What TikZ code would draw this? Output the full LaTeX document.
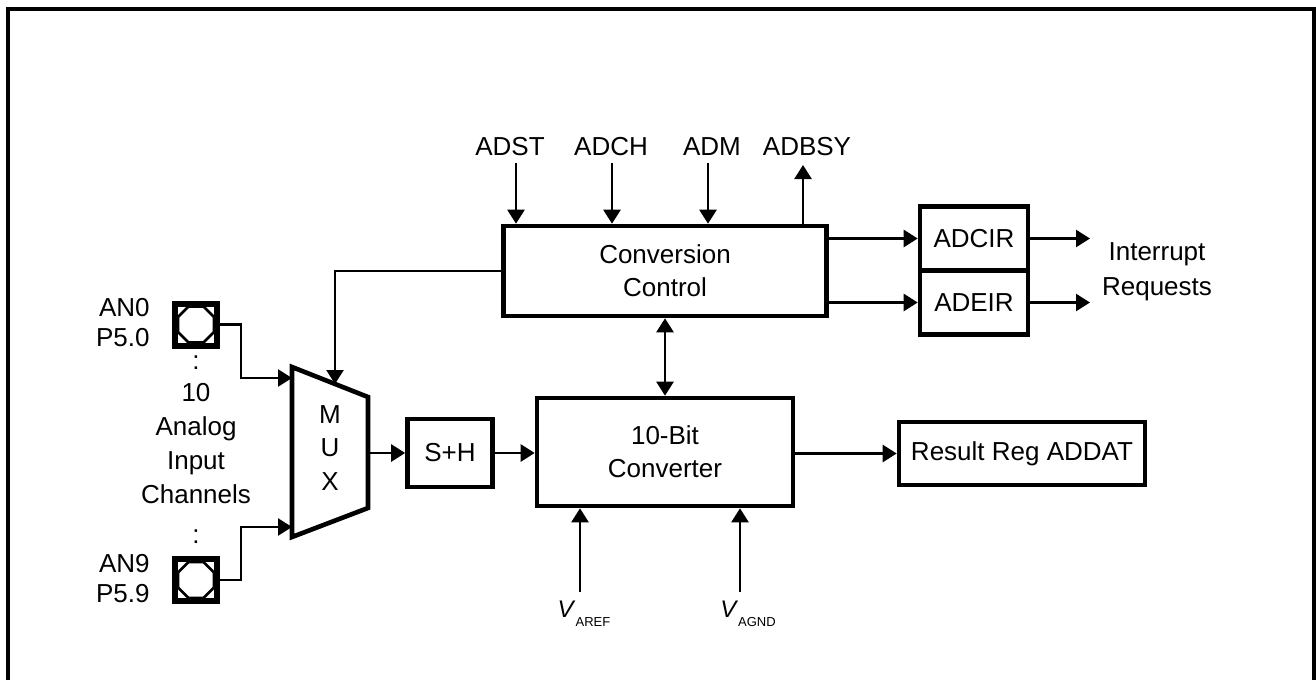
\documentclass[tikz,border=0pt]{standalone}
\usepackage{fontspec}
\setmainfont{Liberation Sans}
\usetikzlibrary{arrows.meta,calc}

\begin{document}
\begin{tikzpicture}[x=0.5pt, y=-0.5pt,
  font=\fontsize{13}{16.5}\selectfont,
  box/.style={draw, line width=2.3pt, align=center, inner sep=0pt},
  lbl/.style={align=center, inner sep=2pt},
  pad/.style={draw, line width=3pt, minimum size=21pt, inner sep=0pt,
    path picture={\draw[line width=1.3pt, shift={(path picture bounding box.center)}]
      (9pt,3.73pt) -- (3.73pt,9pt) -- (-3.73pt,9pt) -- (-9pt,3.73pt) -- (-9pt,-3.73pt)
      -- (-3.73pt,-9pt) -- (3.73pt,-9pt) -- (9pt,-3.73pt) -- cycle;}},
  arr/.style={-{Triangle[length=7pt,width=8.5pt]}, line width=1.25pt},
  arr2/.style={{Triangle[length=7pt,width=8.5pt]}-{Triangle[length=7pt,width=8.5pt]}, line width=1.25pt}
]
\useasboundingbox (0,0) rectangle (1316,680);
\draw[line width=1.6pt] (8,680) -- (8,9) -- (1314,9) -- (1314,680);

% main blocks
\node[box, minimum width=161.5pt, minimum height=45pt] (cc) at (665,271) {Conversion\\Control};
\node[box, minimum width=128pt, minimum height=54pt] (conv) at (665,452) {10-Bit\\Converter};
\node[box, minimum width=42.5pt, minimum height=34pt] (sh) at (450,453) {S+H};
\node[box, minimum width=54pt, minimum height=32pt] (adcir) at (974,238.5) {ADCIR};
\node[box, minimum width=54pt, minimum height=32pt] (adeir) at (974,302.5) {ADEIR};
\node[box, minimum width=123pt, minimum height=31.5pt] (res) at (1022,453.5) {Result Reg ADDAT};

% multiplexer
\coordinate (mux-tl) at (292,367); \coordinate (mux-tr) at (368,397);
\coordinate (mux-br) at (368,508); \coordinate (mux-bl) at (292,537);
\draw[line width=2.3pt, line join=miter] (mux-tl) -- (mux-tr) -- (mux-br) -- (mux-bl) -- cycle;
\node[lbl, font=\fontsize{13}{16.75}\selectfont] (muxtxt) at (330,448) {M\\U\\X};
\coordinate (muxsel) at (335,384);
\coordinate (muxin0) at (292,378); \coordinate (muxin9) at (292,527);
\coordinate (muxout) at (368,453);

% analog inputs
\node[pad] (pad0) at (196,324.5) {};
\node[pad] (pad9) at (196,580) {};
\node[lbl, anchor=east, align=right, font=\fontsize{13}{15}\selectfont] (an0) at (154,323) {AN0\\P5.0};
\node[lbl, anchor=east, align=right, font=\fontsize{13}{15}\selectfont] (an9) at (154,578.5) {AN9\\P5.9};
\node[lbl] (dots0) at (196,363) {:};
\node[lbl] (dots9) at (196,537) {:};
\node[lbl, font=\fontsize{13}{17}\selectfont] (chan) at (196,444) {10\\Analog\\Input\\Channels};
\draw[arr] (pad0.east) -- ++(21,0) |- (muxin0);
\draw[arr] (pad9.east) -- ++(21,0) |- (muxin9);
\draw[arr] (cc.west) -| (muxsel);

% control signals
\foreach \n/\lx/\ax in {ADST/510/516, ADCH/611/612, ADM/712/708} {
  \node[lbl] (\n) at (\lx,147) {\n};
  \coordinate (\n-pin) at (\ax,163);
  \draw[arr] (\n-pin) -- (\n-pin |- cc.north);
}
\node[lbl] (ADBSY) at (807,147) {ADBSY};
\coordinate (ADBSY-pin) at (803,165);
\draw[arr] (ADBSY-pin |- cc.north) -- (ADBSY-pin);

% data path
\draw[arr] (muxout) -- (sh.west);
\draw[arr] (sh.east) -- (conv.west |- sh.east);
\draw[arr] (conv.east |- res.west) -- (res.west);
\draw[arr2] (cc.south) -- (conv.north);

% interrupts
\draw[arr] (cc.east |- adcir.west) -- (adcir.west);
\draw[arr] (cc.east |- adeir.west) -- (adeir.west);
\coordinate (irq1) at (1090,238.5); \coordinate (irq2) at (1090,302.5);
\draw[arr] (adcir.east) -- (irq1);
\draw[arr] (adeir.east) -- (irq2);
\node[lbl, font=\fontsize{13}{17.5}\selectfont] (irqtxt) at (1157,272) {Interrupt\\Requests};

% references
\coordinate (vref-pin) at (580,592); \coordinate (vgnd-pin) at (740,592);
\draw[arr] (vref-pin) -- (vref-pin |- conv.south);
\draw[arr] (vgnd-pin) -- (vgnd-pin |- conv.south);
\node[lbl] (vref) at (584,614) {\fontsize{12}{13}\selectfont\textit{V}\raisebox{-4.5pt}{\fontsize{6.5}{7}\selectfont AREF}};
\node[lbl] (vgnd) at (748,614) {\fontsize{12}{13}\selectfont\textit{V}\raisebox{-4.5pt}{\fontsize{6.5}{7}\selectfont AGND}};
\end{tikzpicture}
\end{document}
